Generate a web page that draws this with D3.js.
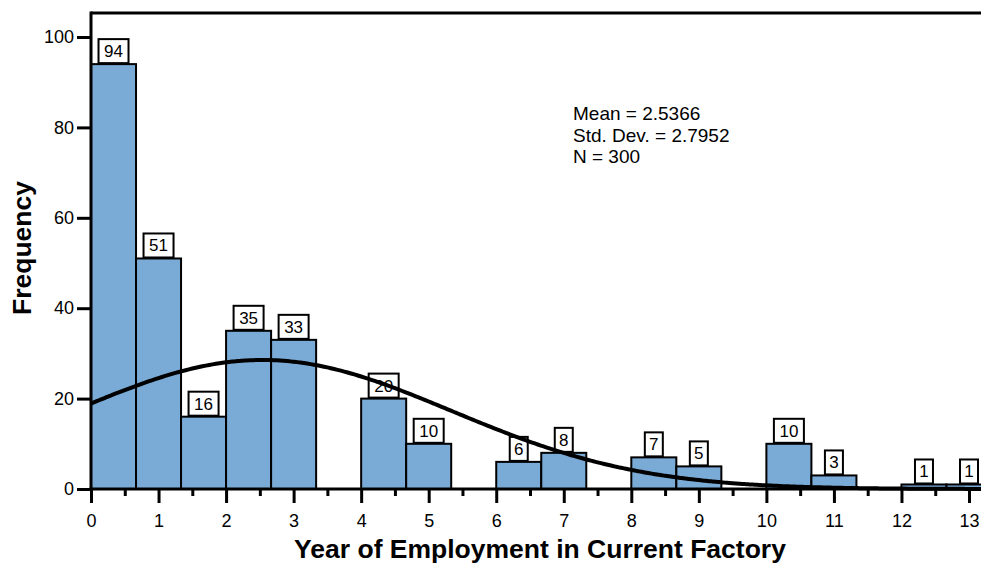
<!DOCTYPE html>
<html>
<head>
<meta charset="utf-8">
<script src="https://cdn.jsdelivr.net/npm/d3@7"></script>
<style>
  html, body { margin: 0; padding: 0; background: #fff; }
  svg { display: block; font-family: "Liberation Sans", Arial, sans-serif; }
</style>
</head>
<body>
<svg id="chart" width="981" height="564"></svg>
<script>
// Histogram bins (lower edge, upper edge in years) and their counts
const binStarts = [0, 0.6667, 1.3333, 2, 2.6667, 4, 4.6667, 6, 6.6667, 8, 8.6667, 10, 10.6667, 12, 12.6667];
const binEnds   = [0.6667, 1.3333, 2, 2.6667, 3.3333, 4.6667, 5.3333, 6.6667, 7.3333, 8.6667, 9.3333, 10.6667, 11.3333, 12.6667, 13.3333];
const counts    = [94, 51, 16, 35, 33, 20, 10, 6, 8, 7, 5, 10, 3, 1, 1];

// Summary statistics shown in the chart
const statMean = 2.5366;
const statSD = 2.7952;
const statN = 300;
const binWidth = 0.6667;
const statLines = ["Mean = 2.5366", "Std. Dev. = 2.7952", "N = 300"];

const xTicks = [0, 1, 2, 3, 4, 5, 6, 7, 8, 9, 10, 11, 12, 13];
const xMinorTicks = [0.5, 1.5, 2.5, 3.5, 4.5, 5.5, 6.5, 7.5, 8.5, 9.5, 10.5, 11.5, 12.5, 13.5];
const yTicks = [0, 20, 40, 60, 80, 100];

const svg = d3.select("#chart");
const W = 981, H = 564;
const FONT = "Liberation Sans, Arial, sans-serif";

const x = d3.scaleLinear().domain([0, 13]).range([91, 969]);
const y = d3.scaleLinear().domain([0, 100]).range([489, 37]);
const yTop = y(105.3);

// Clip marks to the visible frame
svg.append("defs").append("clipPath").attr("id", "plotClip")
  .append("rect").attr("x", x(0) - 2).attr("y", yTop - 2).attr("width", W).attr("height", y(0) - yTop + 4);

const plot = svg.append("g").attr("clip-path", "url(#plotClip)");

// Bars
plot.selectAll("rect.bar")
  .data(counts.map((c, i) => ({ c, a: binStarts[i], b: binEnds[i] })))
  .join("rect")
  .attr("class", "bar")
  .attr("x", d => x(d.a))
  .attr("y", d => y(d.c))
  .attr("width", d => x(d.b) - x(d.a))
  .attr("height", d => y(0) - y(d.c))
  .attr("fill", "#7aaad6")
  .attr("stroke", "#000")
  .attr("stroke-width", 2);

// Value labels in boxes above bars
const labels = plot.selectAll("g.lbl")
  .data(counts.map((c, i) => ({ c, m: (binStarts[i] + binEnds[i]) / 2 })))
  .join("g")
  .attr("class", "lbl");
labels.each(function (d) {
  const g = d3.select(this);
  const t = String(d.c);
  const w = t.length === 1 ? 18 : 30;
  const h = 24;
  const cx = x(d.m);
  const by = y(d.c) - 1;
  g.append("rect")
    .attr("x", cx - w / 2).attr("y", by - h)
    .attr("width", w).attr("height", h)
    .attr("fill", "#fff").attr("stroke", "#000").attr("stroke-width", 2);
  g.append("text")
    .attr("x", cx).attr("y", by - 6)
    .attr("text-anchor", "middle")
    .attr("font-size", 17)
    .text(t);
});

// Normal curve from the stated mean, SD and N
const curveX = d3.range(0, 13.5 + 1e-9, 0.05);
const normal = v => statN * binWidth / (statSD * Math.sqrt(2 * Math.PI)) *
  Math.exp(-0.5 * Math.pow((v - statMean) / statSD, 2));
plot.append("path")
  .datum(curveX)
  .attr("fill", "none")
  .attr("stroke", "#000")
  .attr("stroke-width", 4)
  .attr("d", d3.line().x(d => x(d)).y(d => y(normal(d))).curve(d3.curveBasis));

// Frame: top border
svg.append("line")
  .attr("x1", x(0)).attr("x2", W).attr("y1", yTop).attr("y2", yTop)
  .attr("stroke", "#000").attr("stroke-width", 3);

// Y axis
const yAxis = svg.append("g").attr("transform", `translate(${x(0)},0)`)
  .call(d3.axisLeft(y).tickValues(yTicks).tickSize(14).tickPadding(3));
yAxis.select(".domain").remove();
yAxis.selectAll("line").attr("stroke-width", 3);
yAxis.selectAll("text").attr("font-size", 18).attr("font-family", FONT).attr("fill", "#000");
svg.append("line")
  .attr("x1", x(0)).attr("x2", x(0)).attr("y1", yTop - 1.5).attr("y2", y(0))
  .attr("stroke", "#000").attr("stroke-width", 3);

// X axis
svg.append("line")
  .attr("x1", x(0) - 1.5).attr("x2", W).attr("y1", y(0)).attr("y2", y(0))
  .attr("stroke", "#000").attr("stroke-width", 3);
const xAxis = svg.append("g").attr("transform", `translate(0,${y(0)})`)
  .call(d3.axisBottom(x).tickValues(xTicks).tickSize(14).tickPadding(11).tickFormat(d3.format("d")));
xAxis.select(".domain").remove();
xAxis.selectAll("line").attr("stroke-width", 3);
xAxis.selectAll("text").attr("font-size", 18).attr("font-family", FONT).attr("fill", "#000");
const xMinor = svg.append("g").attr("transform", `translate(0,${y(0)})`)
  .call(d3.axisBottom(x).tickValues(xMinorTicks.filter(v => x(v) < W)).tickSize(7).tickFormat(""));
xMinor.select(".domain").remove();
xMinor.selectAll("line").attr("stroke-width", 3);

// Axis titles
svg.append("text")
  .attr("x", 540).attr("y", 558)
  .attr("text-anchor", "middle")
  .attr("font-size", 26.5).attr("font-weight", "bold")
  .text("Year of Employment in Current Factory");
svg.append("text")
  .attr("transform", "translate(31,248) rotate(-90)")
  .attr("text-anchor", "middle")
  .attr("font-size", 26.5).attr("font-weight", "bold")
  .text("Frequency");

// Statistics block
svg.append("g").selectAll("text")
  .data(statLines)
  .join("text")
  .attr("x", 573)
  .attr("y", (d, i) => 120 + i * 21.5)
  .attr("font-size", 19)
  .text(d => d);
</script>
</body>
</html>
